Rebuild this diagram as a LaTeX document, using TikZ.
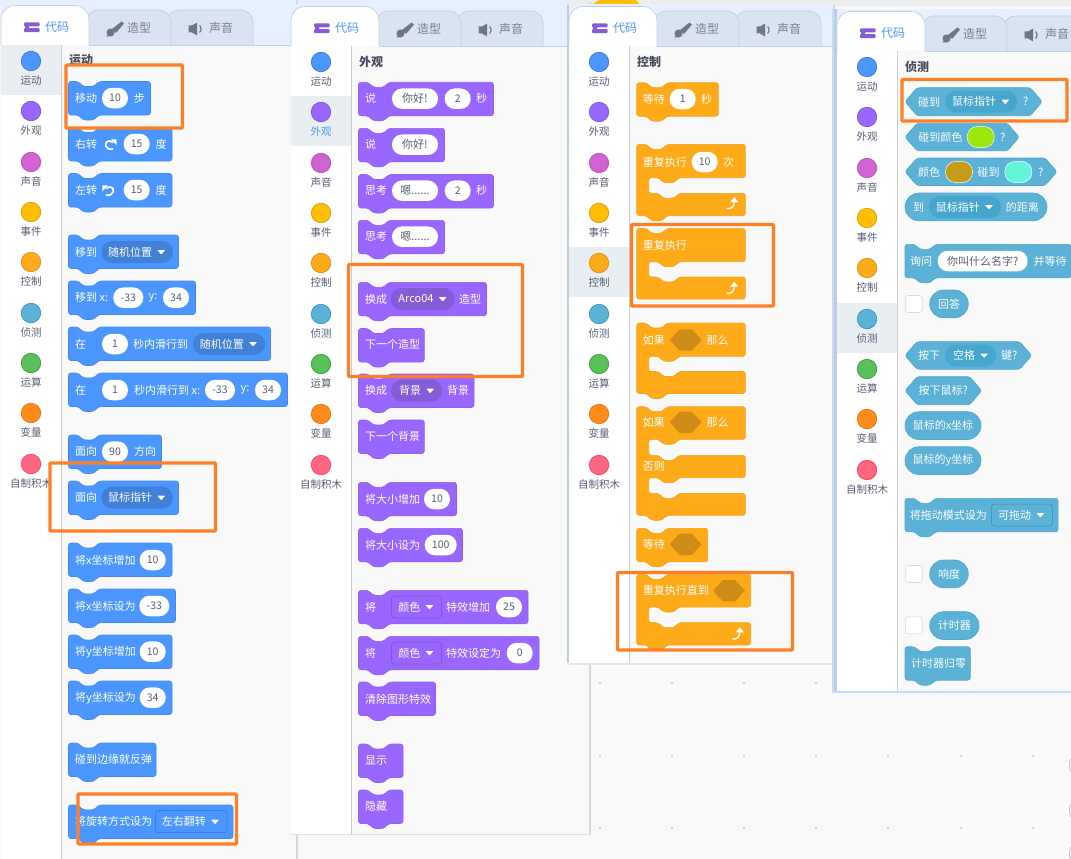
\documentclass[tikz,border=0pt]{standalone}
\usepackage{fontspec}
\setmainfont{Noto Sans CJK SC}
\definecolor{motionfill}{HTML}{4C97FF}\definecolor{motionedge}{HTML}{4489EA}\definecolor{motionring}{HTML}{3373CC}\definecolor{motiondrop}{HTML}{4280D7}
\definecolor{looksfill}{HTML}{9966FF}\definecolor{looksedge}{HTML}{8F5FEE}\definecolor{looksring}{HTML}{774DCB}\definecolor{looksdrop}{HTML}{855CD6}
\definecolor{controlfill}{HTML}{FFAB19}\definecolor{controledge}{HTML}{F2A218}\definecolor{controlring}{HTML}{CF8B17}\definecolor{controldrop}{HTML}{CF8B17}
\definecolor{sensefill}{HTML}{5CB1D6}\definecolor{senseedge}{HTML}{50A6CC}\definecolor{sensering}{HTML}{2E8EB8}\definecolor{sensedrop}{HTML}{47A6CE}
\definecolor{soundfill}{HTML}{CF63CF}\definecolor{soundring}{HTML}{BD42BD}
\definecolor{eventfill}{HTML}{FFBF00}\definecolor{eventring}{HTML}{CC9900}
\definecolor{opfill}{HTML}{59C059}\definecolor{opring}{HTML}{389438}
\definecolor{varfill}{HTML}{FF8C1A}\definecolor{varring}{HTML}{DB6E00}
\definecolor{myfill}{HTML}{FF6680}\definecolor{myring}{HTML}{FF3355}
\definecolor{tabstrip}{HTML}{E6F0FF}\definecolor{tabidle}{HTML}{D9E3F2}\definecolor{tabline}{HTML}{C4CFDF}
\definecolor{slate}{HTML}{575E75}\definecolor{paletteback}{HTML}{F9F9F9}\definecolor{rowpick}{HTML}{E9EEF2}
\definecolor{markbox}{HTML}{FF7F27}\definecolor{codeicon}{HTML}{855CD6}
\definecolor{sidestripe}{HTML}{BCCFDA}\definecolor{sideglow}{HTML}{C9D8FF}
\tikzset{
  blockbody/.style={fill=#1fill, draw=#1edge, line width=0.6pt, rounded corners=2.5pt},
  blocktext/.style={text=white, inner sep=0pt, font=\fontsize{11}{13}\selectfont},
  numpill/.style={fill=white, text=slate, inner sep=0pt, rounded corners=10pt, minimum width=26pt, minimum height=20.5pt, font=\fontsize{10.5}{12}\selectfont},
  dropchip/.style={fill=#1drop, inner sep=0pt, rounded corners=11pt, minimum height=22pt},
  menuchip/.style={fill=#1fill, draw=#1ring, line width=0.5pt, inner sep=0pt, rounded corners=3pt, minimum height=22pt},
  colorchip/.style={draw=white, line width=0.5pt, inner sep=0pt, rounded corners=10pt, minimum width=27pt, minimum height=21pt},
  tickbox/.style={fill=white, draw=black!15, line width=0.6pt, inner sep=0pt, rounded corners=3pt, minimum size=17pt},
  catdot/.style={circle, inner sep=0pt, minimum size=19.5pt, line width=0.6pt},
  catlabel/.style={inner sep=0pt, font=\fontsize{10.5}{12}\selectfont},
  tabtext/.style={inner sep=0pt, text=slate!80, font=\fontsize{12}{14}\selectfont},
  titletext/.style={inner sep=0pt, anchor=west, text=slate!80!black, font=\fontsize{12}{14}\selectfont\bfseries},
  turnline/.style={draw=white, line width=1.7pt},
  markframe/.style={draw=markbox, line width=3.4pt, rounded corners=1pt},
  idletab/.style={fill=tabidle, draw=tabline, line width=0.7pt, rounded corners=12pt}
}
\newcommand\stackblock[4]{\draw[blockbody=#1] (#2,#3) -- ++(9.5,0) -- ++(5.5,5) -- ++(10,0) -- ++(5.5,-5) -- ({#2+#4},#3) -- ({#2+#4},{#3+33.5}) -- ({#2+30.5},{#3+33.5}) -- ++(-5.5,5) -- ++(-10,0) -- ++(-5.5,-5) -- (#2,{#3+33.5}) -- cycle;}
\newcommand\mouthpart[4]{-- ({#1+#2},#3) -- ({#1+42.5},#3) -- ++(-5.5,5) -- ++(-10,0) -- ++(-5.5,-5) -- ({#1+12},#3) -- ({#1+12},#4) -- ({#1+21.5},#4) -- ++(5.5,5) -- ++(10,0) -- ++(5.5,-5) -- ({#1+#2},#4)}
\newcommand\toppart[2]{(#1,#2) -- ++(9.5,0) -- ++(5.5,5) -- ++(10,0) -- ++(5.5,-5)}
\newcommand\bottompart[2]{-- ({#1+30.5},#2) -- ++(-5.5,5) -- ++(-10,0) -- ++(-5.5,-5) -- (#1,#2) -- cycle}
\newcommand\boolblock[4]{\draw[blockbody=sense] (#1,{#2+#4/2}) -- ({#1+12},#2) -- ({#1+#3-12},#2) -- ({#1+#3},{#2+#4/2}) -- ({#1+#3-12},{#2+#4}) -- ({#1+12},{#2+#4}) -- cycle;}
\newcommand\ovalblock[3]{\draw[blockbody=sense, rounded corners=13.8pt] (#1,#2) rectangle ({#1+#3},{#2+27.8});}
\newcommand\hexslot[2]{\fill[controldrop] ({#1-16},#2) -- ({#1-6},{#2-10.7}) -- ({#1+6},{#2-10.7}) -- ({#1+16},#2) -- ({#1+6},{#2+10.7}) -- ({#1-6},{#2+10.7}) -- cycle;}
\newcommand\dropdown[6]{
    \node[#2, minimum width=#5pt] (#1) at (#3,#4) {};
    \node[blocktext, anchor=east] (#1text) at ({#3+#5/2-21},#4) {#6};
    \fill[white, rounded corners=.6pt] ({#3+#5/2-16},{#4-2}) -- ++(8,0) -- ++(-4,4.5) -- cycle;
}
\newcommand\loopicon[2]{
    \draw[turnline, line width=1.3pt] ({#1-6},{#2+4.5}) .. controls ({#1-2},{#2+5.5}) and ({#1+1.5},{#2+3}) .. ({#1+1.5},{#2-2});
    \fill[white] ({#1-2.5},{#2-2}) -- ({#1+1.5},{#2-7}) -- ({#1+5.5},{#2-2}) -- cycle;
}
% one palette: name, left, top shift, right, bottom, picked row, colour of picked label, title
\newcommand\palettepanel[8]{
    \fill[tabstrip] ({#2+1},{#3+3}) rectangle (#4,{#3+45});
    \fill[white] ({#2+1},{#3+45}) rectangle ({#2+61.5},#5);
    \fill[paletteback] ({#2+61.5},{#3+45}) rectangle (#4,#5);
    \draw[black!20, line width=0.6pt] ({#2+61.5},{#3+45}) -- ({#2+61.5},#5);
    \draw[tabline, line width=0.7pt] ({#2+89},{#3+45}) -- (#4,{#3+45});
    \draw[idletab] ({#2+167},{#3+45}) -- ({#2+167},{#3+10}) -- ({#2+253},{#3+10}) -- ({#2+253},{#3+45});
    \draw[idletab] ({#2+86},{#3+45}) -- ({#2+86},{#3+10}) -- ({#2+171},{#3+10}) -- ({#2+171},{#3+45});
    \draw[fill=white, draw=tabline, line width=0.7pt, rounded corners=14pt] ({#2+1},{#3+45}) -- ({#2+1},{#3+5.5}) -- ({#2+89},{#3+5.5}) -- ({#2+89},{#3+45});
    \fill[codeicon, rounded corners=1pt] ({#2+24},{#3+22.5}) rectangle ({#2+39.5},{#3+26.4}) ({#2+24},{#3+28.2}) rectangle ({#2+39.5},{#3+32.2}) ({#2+25},{#3+25}) rectangle ({#2+29},{#3+30});
    \node[tabtext, text=motionfill] (#1code) at ({#2+57},{#3+27}) {代码};
    \fill[slate!85] ({#2+112},{#3+29}) -- ({#2+121.5},{#3+21.5}) -- ({#2+124},{#3+23.5}) -- ({#2+116},{#3+33}) -- cycle ({#2+110.5},{#3+32.5}) circle[radius=4];
    \fill[slate!85] ({#2+106},{#3+36.5}) -- ({#2+110},{#3+33}) -- ({#2+112},{#3+36}) -- cycle;
    \node[tabtext] (#1costume) at ({#2+139},{#3+28}) {造型};
    \fill[slate!85] ({#2+188.5},{#3+25.5}) -- ({#2+192},{#3+25.5}) -- ({#2+197},{#3+22.5}) -- ({#2+197},{#3+35.5}) -- ({#2+192},{#3+32.5}) -- ({#2+188.5},{#3+32.5}) -- cycle;
    \draw[slate!85, line width=1.2pt] ({#2+199.5},{#3+25.5}) .. controls ({#2+201.5},{#3+27}) and ({#2+201.5},{#3+31}) .. ({#2+199.5},{#3+32.5});
    \node[tabtext] (#1sound) at ({#2+221},{#3+28}) {声音};
    \foreach \i/\cat/\catname/\rowy in {1/motion/运动/61, 2/looks/外观/111, 3/sound/声音/162, 4/event/事件/212, 5/control/控制/262, 6/sense/侦测/313, 7/op/运算/363, 8/var/变量/413, 9/my/自制积木/464}{
        \ifnum\i=#6
            \fill[rowpick] ({#2+1},{#3+\rowy-16}) rectangle ({#2+61},{#3+\rowy+34.3});
            \node[catlabel, text=#7] (#1label\i) at ({#2+31},{#3+\rowy+19.5}) {\catname};
        \else
            \node[catlabel, text=slate] (#1label\i) at ({#2+31},{#3+\rowy+19.5}) {\catname};
        \fi
        \node[catdot, fill=\cat fill, draw=\cat ring] (#1dot\i) at ({#2+31},{#3+\rowy}) {};
    }
    \node[titletext] (#1title) at ({#2+69},{#3+60.5}) {#8};
}
\begin{document}
\begin{tikzpicture}[x=1pt, y=-1pt]
    \useasboundingbox (0,0) rectangle (1071,859);
    \clip (0,0) rectangle (1071,859);
    \fill[paletteback] (0,0) rectangle (1071,859);
    \fill[tabstrip] (0,0) rectangle (568,6);
    \fill[black!7] (568,0) rectangle (1071,6);
    \fill[eventfill] (600,0) -- (636,0) -- (640,5) -- (590,5) -- cycle;
    \foreach \dotx in {600,672,744,816,888,961,1033}{
        \foreach \doty in {683,755.7,828}{
            \fill[black!17] (\dotx,\doty) circle[radius=1.4];
        }
    }
    \foreach \doty in {765,810,854}{
        \draw[black!22, fill=white, line width=1pt] (1085,\doty) circle[radius=15.5];
    }

    % motion
    \fill[black!15] (296,0) rectangle (298,859);
    \palettepanel{mo}{0}{0}{296}{859}{1}{slate}{运动}
    \stackblock{motion}{68.5}{81.5}{82}
    \node[blocktext, anchor=west] (mostep) at (75,98) {移动};
    \node[numpill] (mostepnum) at (115,98) {10};
    \node[blocktext] (mostepunit) at (139.3,98) {步};
    \stackblock{motion}{68.5}{127.5}{103.5}
    \node[blocktext, anchor=west] (moright) at (75,144) {右转};
    \draw[turnline] (113,149) .. controls (105,151) and (102.5,141) .. (110,141) -- (113,142.5);
    \fill[white] (111,139.3) -- (116.7,139.3) -- (116.7,145.5) -- cycle;
    \node[numpill] (morightnum) at (136.7,144) {15};
    \node[blocktext] (morightunit) at (161,144) {度};
    \stackblock{motion}{68.5}{173.5}{103.5}
    \node[blocktext, anchor=west] (moleft) at (75,190) {左转};
    \draw[turnline] (106,195) .. controls (114,197) and (116.5,187) .. (109,187) -- (106,188.5);
    \fill[white] (108,185.3) -- (102.3,185.3) -- (102.3,191.5) -- cycle;
    \node[numpill] (moleftnum) at (136.7,190) {15};
    \node[blocktext] (moleftunit) at (161,190) {度};
    \stackblock{motion}{68.5}{235}{110}
    \node[blocktext, anchor=west] (mogo) at (75,252) {移到};
    \dropdown{mogomenu}{dropchip=motion}{137.2}{252}{72}{随机位置}
    \stackblock{motion}{68.5}{281}{127}
    \node[blocktext, anchor=west] (mogoxy) at (75,297.7) {移到 x:};
    \node[numpill, minimum width=30pt] (mogox) at (128.3,297.7) {-33};
    \node[blocktext] (mogoylabel) at (153,297.7) {y:};
    \node[numpill] (mogoy) at (176,297.7) {34};
    \stackblock{motion}{68.5}{327}{202}
    \node[blocktext, anchor=west] (moglide) at (75,344) {在};
    \node[numpill] (moglidesec) at (115,344) {1};
    \node[blocktext] (moglidetext) at (160.7,344) {秒内滑行到};
    \dropdown{moglidemenu}{dropchip=motion}{229}{344}{72}{随机位置}
    \stackblock{motion}{68.5}{373}{219}
    \node[blocktext, anchor=west] (moslide) at (75,390) {在};
    \node[numpill] (moslidesec) at (115,390) {1};
    \node[blocktext, anchor=west] (moslidetext) at (134,390) {秒内滑行到 x:};
    \node[numpill, minimum width=30pt] (moslidex) at (220,390) {-33};
    \node[blocktext] (moslideylabel) at (245,390) {y:};
    \node[numpill] (moslidey) at (268,390) {34};
    \stackblock{motion}{68.5}{435}{93}
    \node[blocktext, anchor=west] (moface) at (75,451.7) {面向};
    \node[numpill] (mofacenum) at (115,451.7) {90};
    \node[blocktext] (mofaceunit) at (145,451.7) {方向};
    \stackblock{motion}{68.5}{481}{110}
    \node[blocktext, anchor=west] (mopoint) at (75,497.7) {面向};
    \dropdown{mopointmenu}{dropchip=motion}{137.2}{497.7}{72}{鼠标指针}
    \stackblock{motion}{68.5}{543}{103.5}
    \node[blocktext, anchor=west] (moxadd) at (75,560) {将x坐标增加};
    \node[numpill] (moxaddnum) at (152.7,560) {10};
    \stackblock{motion}{68.5}{589}{107}
    \node[blocktext, anchor=west] (moxset) at (75,606) {将x坐标设为};
    \node[numpill, minimum width=30pt] (moxsetnum) at (154.3,606) {-33};
    \stackblock{motion}{68.5}{635}{103.5}
    \node[blocktext, anchor=west] (moyadd) at (75,651.7) {将y坐标增加};
    \node[numpill] (moyaddnum) at (152.7,651.7) {10};
    \stackblock{motion}{68.5}{681}{103.5}
    \node[blocktext, anchor=west] (moyset) at (75,697.7) {将y坐标设为};
    \node[numpill] (moysetnum) at (152.7,697.7) {34};
    \stackblock{motion}{68.5}{743}{87.5}
    \node[blocktext, anchor=west] (mobounce) at (75,759.7) {碰到边缘就反弹};
    \stackblock{motion}{68.5}{805}{164.5}
    \node[blocktext, anchor=west] (morotate) at (75,821.7) {将旋转方式设为};
    \dropdown{morotatemenu}{menuchip=motion}{191.2}{821.7}{71.7}{左右翻转}

    % looks
    \fill[black!15] (589,2) rectangle (591,835);
    \fill[black!12] (291,833) rectangle (591,835);
    \palettepanel{lo}{290}{1}{589}{833.5}{2}{motionfill}{外观}
    \stackblock{looks}{358.5}{82.3}{135}
    \node[blocktext, anchor=west] (losay) at (365,98.7) {说};
    \node[numpill, minimum width=46pt, font=\fontsize{11}{13}\selectfont] (losaytext) at (415,98.7) {你好!};
    \node[numpill] (losaynum) at (457.7,98.7) {2};
    \node[blocktext] (losayunit) at (481.7,98.7) {秒};
    \stackblock{looks}{358.5}{128.3}{86}
    \node[blocktext, anchor=west] (losaytwo) at (365,144.7) {说};
    \node[numpill, minimum width=46pt, font=\fontsize{11}{13}\selectfont] (losaytwotext) at (415,144.7) {你好!};
    \stackblock{looks}{358.5}{174.5}{135}
    \node[blocktext, anchor=west] (lothink) at (365,190.7) {思考};
    \node[numpill, minimum width=46pt, font=\fontsize{11}{13}\selectfont] (lothinktext) at (415,190.7) {嗯......};
    \node[numpill] (lothinknum) at (457.7,190.7) {2};
    \node[blocktext] (lothinkunit) at (481.7,190.7) {秒};
    \stackblock{looks}{358.5}{220.3}{86}
    \node[blocktext, anchor=west] (lothinktwo) at (365,236.7) {思考};
    \node[numpill, minimum width=46pt, font=\fontsize{11}{13}\selectfont] (lothinktwotext) at (415,236.7) {嗯......};
    \stackblock{looks}{358.5}{282.3}{128}
    \node[blocktext, anchor=west] (loswitch) at (365,299) {换成};
    \dropdown{loswitchmenu}{dropchip=looks}{422.7}{299}{64}{Arco04}
    \node[blocktext] (loswitchunit) at (470,299) {造型};
    \stackblock{looks}{358.5}{328.5}{65.8}
    \node[blocktext, anchor=west] (lonext) at (365,344.7) {下一个造型};
    \stackblock{looks}{358.5}{374}{115.5}
    \node[blocktext, anchor=west] (loback) at (365,390.7) {换成};
    \dropdown{lobackmenu}{dropchip=looks}{416.7}{390.7}{51}{背景}
    \node[blocktext] (lobackunit) at (458,390.7) {背景};
    \stackblock{looks}{358.5}{420}{65.8}
    \node[blocktext, anchor=west] (lonextback) at (365,436.7) {下一个背景};
    \stackblock{looks}{358.5}{482.3}{98}
    \node[blocktext, anchor=west] (losizeadd) at (365,499) {将大小增加};
    \node[numpill] (losizeaddnum) at (437,499) {10};
    \stackblock{looks}{358.5}{528.3}{104}
    \node[blocktext, anchor=west] (losizeset) at (365,545) {将大小设为};
    \node[numpill, minimum width=32pt] (losizesetnum) at (440.7,545) {100};
    \stackblock{looks}{358.5}{590.3}{169.5}
    \node[blocktext, anchor=west] (lofxadd) at (365,607) {将};
    \dropdown{lofxaddmenu}{menuchip=looks}{416.5}{607}{50}{颜色}
    \node[blocktext] (lofxaddtext) at (468,607) {特效增加};
    \node[numpill] (lofxaddnum) at (509,607) {25};
    \stackblock{looks}{358.5}{636.3}{180.5}
    \node[blocktext, anchor=west] (lofxset) at (365,653) {将};
    \dropdown{lofxsetmenu}{menuchip=looks}{416.5}{653}{50}{颜色}
    \node[blocktext] (lofxsettext) at (473.7,653) {特效设定为};
    \node[numpill] (lofxsetnum) at (519.7,653) {0};
    \stackblock{looks}{358.5}{682}{77}
    \node[blocktext, anchor=west] (loclear) at (365,699) {清除图形特效};
    \stackblock{looks}{358.5}{744}{44.5}
    \node[blocktext, anchor=west] (loshow) at (365,760.7) {显示};
    \stackblock{looks}{358.5}{790}{44.5}
    \node[blocktext, anchor=west] (lohide) at (365,806.7) {隐藏};

    % control
    \fill[eventring!75!black] (589,662) rectangle (789,665.3);
    \fill[black!15] (833,5) rectangle (835,665);
    \fill[black!10] (569,662.5) rectangle (835,664.5);
    \fill[sidestripe] (566.5,5) rectangle (569,662.7);
    \palettepanel{co}{568}{1}{833}{662.7}{5}{slate}{控制}
    \stackblock{control}{636.7}{82.7}{81.7}
    \node[blocktext, anchor=west] (cowait) at (642.7,99) {等待};
    \node[numpill] (cowaitnum) at (682.7,99) {1};
    \node[blocktext] (cowaitunit) at (706.7,99) {秒};
    \draw[blockbody=control] \toppart{636.7}{144.3} -- (745.3,144.3) \mouthpart{636.7}{108.7}{177.7}{193.3} -- (745.3,215.7) \bottompart{636.7}{215.7};
    \node[blocktext, anchor=west] (corepeat) at (642.7,162) {重复执行};
    \node[numpill] (corepeatnum) at (704.7,162) {10};
    \node[blocktext] (corepeatunit) at (728.7,162) {次};
    \loopicon{732.7}{204}
    \draw[blockbody=control] \toppart{636.7}{228.3} -- (745.3,228.3) \mouthpart{636.7}{108.7}{261.7}{277} -- (745.3,299) -- (636.7,299) -- cycle;
    \node[blocktext, anchor=west] (coforever) at (642.7,245) {重复执行};
    \loopicon{732.7}{288.7}
    \draw[blockbody=control] \toppart{636.7}{323} -- (745.3,323) \mouthpart{636.7}{108.7}{356.3}{371.5} -- (745.3,393.5) \bottompart{636.7}{393.5};
    \node[blocktext, anchor=west] (coif) at (642.7,340) {如果};
    \hexslot{685.7}{340}
    \node[blocktext] (cothen) at (717.7,340) {那么};
    \draw[blockbody=control] \toppart{636.7}{406.7} -- (745.3,406.7) \mouthpart{636.7}{108.7}{439.3}{455.3} \mouthpart{636.7}{108.7}{477.7}{493.3} -- (745.3,515.3) \bottompart{636.7}{515.3};
    \node[blocktext, anchor=west] (coifelse) at (642.7,422.3) {如果};
    \hexslot{685.7}{422.3}
    \node[blocktext] (cothentwo) at (717.7,422.3) {那么};
    \node[blocktext, anchor=west] (coelse) at (642.7,466.7) {否则};
    \stackblock{control}{636.7}{528.3}{71}
    \node[blocktext, anchor=west] (cowaituntil) at (642.7,544.3) {等待};
    \hexslot{685.7}{544.3}
    \draw[blockbody=control] \toppart{636.7}{574.3} -- (750.7,574.3) \mouthpart{636.7}{114}{607}{622.7} -- (750.7,645) \bottompart{636.7}{645};
    \node[blocktext, anchor=west] (cotil) at (642.7,590.7) {重复执行直到};
    \hexslot{729}{590.7}
    \loopicon{738.3}{634.3}

    % sensing
    \fill[sideglow] (832,9) rectangle (1071,693);
    \fill[sidestripe] (833.8,9) rectangle (837,690.7);
    \palettepanel{se}{836}{6}{1072}{690.7}{6}{slate}{侦测}
    \boolblock{905}{87.7}{137.3}{28}
    \node[blocktext] (setouch) at (929,101.7) {碰到};
    \dropdown{setouchmenu}{dropchip=sense}{981.3}{101.7}{72}{鼠标指针}
    \node[blocktext] (setouchmark) at (1025.7,101.7) {?};
    \boolblock{905}{123.3}{114.3}{27.5}
    \node[blocktext] (setint) at (940.3,137) {碰到颜色};
    \node[colorchip, fill={rgb,255:red,155;green,230;blue,13}] (setintcolor) at (980.7,137) {};
    \node[blocktext] (setintmark) at (1002.7,137) {?};
    \boolblock{905}{158}{152}{27.5}
    \node[blocktext] (seover) at (929,172) {颜色};
    \node[colorchip, fill={rgb,255:red,196;green,156;blue,26}] (seovergold) at (959,172) {};
    \node[blocktext] (seovertext) at (988.7,172) {碰到};
    \node[colorchip, fill={rgb,255:red,100;green,245;blue,216}] (seovercyan) at (1018.3,172) {};
    \node[blocktext] (seovermark) at (1040.7,172) {?};
    \draw[blockbody=sense, rounded corners=13.8pt] (905,193) rectangle (1047,220.8);
    \node[blocktext] (sedist) at (918.7,207) {到};
    \dropdown{sedistmenu}{dropchip=sense}{965}{207}{72}{鼠标指针}
    \node[blocktext] (sedisttext) at (1022.3,207) {的距离};
    \stackblock{sense}{905}{244.3}{166}
    \node[blocktext] (seask) at (921,261) {询问};
    \node[numpill, minimum width=90pt, font=\fontsize{11}{13}\selectfont] (seasktext) at (982.7,261) {你叫什么名字?};
    \node[blocktext] (seaskwait) at (1050,261) {并等待};
    \node[tickbox] (secheckanswer) at (913.7,304) {};
    \ovalblock{929.7}{290}{38.6}
    \node[blocktext] (seanswer) at (949,304) {回答};
    \boolblock{905}{341.7}{126.7}{27.6}
    \node[blocktext] (sekey) at (929,355.5) {按下};
    \dropdown{sekeymenu}{dropchip=sense}{970.7}{355.5}{51}{空格}
    \node[blocktext] (sekeymark) at (1009.3,355.5) {键?};
    \boolblock{905}{376.7}{76.7}{28}
    \node[blocktext] (semouse) at (943.3,390.7) {按下鼠标?};
    \ovalblock{905}{411.7}{76}
    \node[blocktext] (semousex) at (943,425.6) {鼠标的x坐标};
    \ovalblock{905}{446.7}{76}
    \node[blocktext] (semousey) at (943,460.6) {鼠标的y坐标};
    \stackblock{sense}{905}{498.3}{153}
    \node[blocktext] (sedrag) at (948.3,515) {将拖动模式设为};
    \dropdown{sedragmenu}{menuchip=sense}{1021.8}{515}{61}{可拖动}
    \node[tickbox] (secheckloud) at (913.7,574) {};
    \ovalblock{929.7}{560}{38.6}
    \node[blocktext] (seloud) at (949,574) {响度};
    \node[tickbox] (sechecktimer) at (913.7,625.3) {};
    \ovalblock{929.7}{611.7}{49.3}
    \node[blocktext] (setimer) at (954.3,625.5) {计时器};
    \stackblock{sense}{905}{646.7}{65.3}
    \node[blocktext, anchor=west] (sereset) at (911,663) {计时器归零};

    % marks
    \draw[markframe] (66,65) rectangle (182.5,128);
    \draw[markframe] (50,463) rectangle (215.5,531);
    \draw[markframe] (78,794) rectangle (236.5,844);
    \draw[markframe] (348.5,264.5) rectangle (522.5,376.5);
    \draw[markframe] (631.5,224.5) rectangle (773.5,306);
    \draw[markframe] (617.5,572.5) rectangle (792.5,650);
    \draw[markframe] (902,79.5) rectangle (1067,121);
\end{tikzpicture}
\end{document}
